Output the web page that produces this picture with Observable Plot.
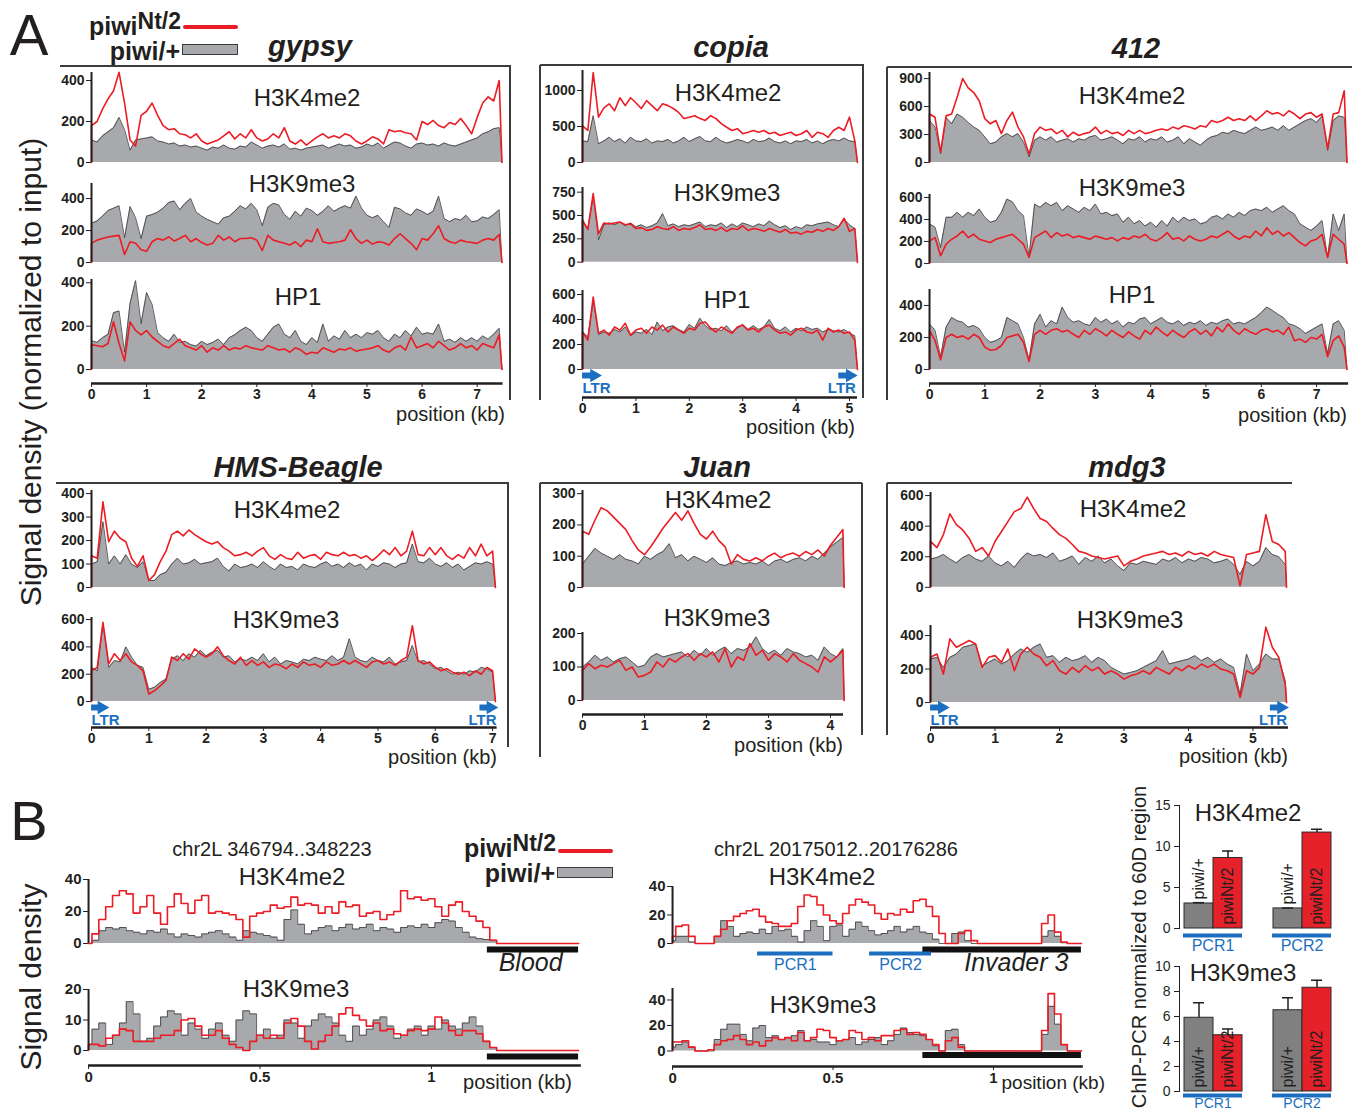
<!DOCTYPE html>
<html>
<head>
<meta charset="utf-8">
<script src="https://cdn.jsdelivr.net/npm/d3@7"></script>
<script src="https://cdn.jsdelivr.net/npm/@observablehq/plot@0.6"></script>
<style>
  html, body { margin: 0; padding: 0; background: #fff; }
  #fig { position: relative; width: 1359px; height: 1113px; overflow: hidden; background: #fff;
         font-family: 'Liberation Sans', Arial, Helvetica, sans-serif; color: #231f20; }
</style>
</head>
<body>
<div id="fig"></div>
<script>
// ===================== DATA =====================
// Signal density per 0.1 kb bin (panel A) or 0.02 kb bin (panel B); "wt" = piwi/+, "mut" = piwi Nt/2
const gypsy_H3K4me2_mut = [180,200,260,310,350,440,290,110,80,230, 250,290,230,180,160,165,140,135,120,140, 105,90,100,110,130,150,115,140,120,160, 120,105,115,140,120,170,105,90,110,85, 105,125,140,120,130,120,140,130,105,90, 105,125,115,90,160,150,155,145,140,110, 200,185,205,180,170,195,185,215,180,140, 220,290,320,300,400];
const gypsy_H3K4me2_wt = [110,100,130,150,170,220,160,60,110,115, 120,125,105,100,90,95,80,85,75,80, 70,60,75,70,85,70,65,80,75,100, 85,70,80,85,75,90,65,70,60,70, 75,80,85,70,80,90,80,85,70,75, 90,80,95,70,85,100,95,80,70,90, 95,85,90,80,95,85,80,90,100,110, 120,140,150,165,170];
const gypsy_H3K9me3_mut = [120,140,150,160,165,170,50,130,120,80, 70,130,150,140,160,135,150,170,130,150, 125,110,120,170,140,160,130,150,150,155, 140,75,170,140,130,120,110,130,100,140, 130,210,130,120,125,130,140,205,150,120, 140,115,130,125,110,150,180,150,120,80, 150,140,180,230,150,130,120,140,130,125, 120,140,150,140,175];
const gypsy_H3K9me3_wt = [245,260,290,325,340,355,155,350,280,150, 290,300,315,340,375,385,330,370,400,315, 290,270,255,240,280,290,320,355,335,370, 330,230,345,370,360,300,270,320,290,340, 325,295,320,355,320,340,355,340,415,340, 295,280,295,255,220,345,335,310,295,335, 320,300,320,415,275,255,275,265,295,255, 260,285,275,300,330];
const gypsy_HP1_mut = [115,110,105,120,220,120,40,220,180,160, 180,150,130,110,100,120,140,110,100,90, 110,80,100,90,110,90,100,95,110,100, 95,90,110,100,90,95,80,100,90,70, 80,75,100,90,80,95,90,100,85,90, 95,100,110,90,80,100,110,90,150,100, 110,120,100,130,110,90,100,120,100,110, 90,120,110,100,160];
const gypsy_HP1_wt = [133,125,147,163,262,270,80,305,410,212, 355,300,170,147,130,163,125,130,115,108, 130,115,125,140,115,147,160,180,195,180, 147,130,163,195,210,163,147,180,130,115, 147,125,210,130,155,140,180,147,163,147, 170,163,180,147,130,163,147,180,155,195, 163,170,163,210,130,140,125,147,130,147, 130,155,140,163,190];

const copia_H3K4me2_mut = [510,445,1250,630,760,815,720,900,790,900, 830,750,860,790,720,815,790,750,695,610, 630,650,610,585,650,610,540,490,445,470, 400,420,445,420,445,400,420,375,400,420, 375,400,445,350,420,400,350,445,490,445, 630,300];
const copia_H3K4me2_wt = [300,290,650,260,300,350,290,330,270,350, 300,290,330,270,300,290,320,270,300,350, 290,330,360,300,290,350,300,270,290,320, 300,270,320,290,300,340,290,270,300,260, 300,290,320,270,300,260,300,320,300,340, 300,290];
const copia_H3K9me3_mut = [450,350,735,300,420,410,420,430,400,410, 360,370,340,350,380,360,350,380,340,360, 350,370,400,350,360,340,370,330,360,350, 390,340,360,350,330,360,340,320,350,310, 320,300,330,320,350,330,360,340,380,470, 330,360];
const copia_H3K9me3_wt = [430,360,700,240,400,420,400,430,390,420, 380,400,370,390,420,520,390,410,380,400, 390,410,430,380,400,390,420,370,410,380, 420,400,380,410,390,440,400,370,390,350, 380,360,400,390,410,420,430,400,380,460, 400,360];
const copia_HP1_mut = [300,235,580,290,315,275,340,315,370,275, 315,330,290,340,315,355,300,340,315,290, 330,315,370,380,330,300,340,315,290,340, 355,315,330,300,340,355,315,290,300,275, 315,330,300,290,315,235,330,300,315,290, 300,235];
const copia_HP1_wt = [300,260,540,280,300,290,320,300,340,270, 300,290,320,280,380,310,340,350,320,300, 360,330,410,350,320,330,310,350,300,330, 360,320,350,320,340,400,330,310,340,300, 330,310,340,320,330,300,320,310,300,320, 290,270];

const te412_H3K4me2_mut = [520,485,110,500,520,700,900,800,750,660, 470,415,450,310,450,540,380,275,90,310, 380,345,360,310,345,275,325,290,310,325, 380,310,345,310,325,290,345,310,345,310, 325,345,360,345,380,360,395,380,360,395, 380,450,430,450,485,450,470,450,500,450, 500,555,520,535,500,555,520,470,520,535, 485,520,150,520,535,770];
const te412_H3K4me2_wt = [450,380,95,485,415,520,485,430,380,345, 275,200,220,275,310,275,310,220,60,240, 275,240,275,220,240,255,220,255,240,275, 290,240,255,275,240,200,255,240,275,220, 255,240,275,220,240,275,200,255,220,185, 240,275,290,325,310,345,325,310,345,380, 345,360,380,345,395,345,380,415,450,470, 430,500,130,450,500,485];
const te412_H3K9me3_mut = [205,235,70,175,220,250,295,235,265,220, 205,190,220,235,250,265,220,175,55,235, 265,295,235,280,250,265,235,250,235,220, 250,235,220,235,205,235,220,250,235,265, 220,205,235,280,220,235,205,250,220,205, 220,250,235,265,295,250,220,250,235,295, 250,325,265,295,250,280,235,190,160,205, 220,265,55,265,220,175];
const te412_H3K9me3_wt = [360,330,145,420,420,465,420,465,435,495, 420,375,390,465,585,560,480,435,60,540, 510,555,525,555,480,525,495,465,510,480, 540,450,465,435,450,375,420,360,390,340, 375,330,390,340,420,375,420,390,405,360, 375,420,435,405,450,420,465,435,480,495, 480,510,465,495,525,480,450,360,330,300, 340,390,55,450,300,450];
const te412_HP1_mut = [245,180,60,200,220,200,210,190,220,200, 140,120,125,150,200,210,220,170,50,220, 245,220,245,255,235,245,220,200,245,220, 255,235,210,245,220,200,235,210,190,245, 220,265,235,210,245,220,200,235,255,220, 245,210,265,235,285,245,220,255,235,220, 245,255,235,245,220,265,180,190,170,200, 190,220,80,180,210,140];
const te412_HP1_wt = [285,245,80,265,325,305,295,265,275,255, 200,170,180,200,325,305,285,200,60,285, 345,265,305,285,390,325,295,305,285,275, 325,295,315,285,305,265,295,285,315,325, 285,305,325,295,285,305,275,295,285,305, 275,295,285,305,315,285,295,285,305,325, 355,390,370,345,325,285,275,255,225,245, 265,285,100,285,305,245];

const hms_H3K4me2_mut = [135,125,365,195,240,210,195,125,90,135, 30,55,110,155,225,240,220,245,225,210, 195,185,195,170,155,135,140,150,135,155, 170,135,120,140,125,120,150,125,135,140, 120,150,140,135,150,135,140,125,135,115, 135,160,140,170,135,155,240,140,135,170, 140,170,135,120,140,125,170,135,185,135, 155];
const hms_H3K4me2_wt = [100,110,280,100,135,100,140,100,85,110, 30,30,55,65,100,125,100,105,120,100, 105,110,125,90,70,100,85,90,100,85, 110,90,75,100,85,90,75,100,90,85, 100,110,90,100,85,105,90,100,75,100, 90,105,100,85,100,105,185,110,105,125, 100,90,105,85,100,75,90,105,100,110, 100];
const hms_H3K9me3_mut = [225,250,580,275,350,300,350,290,265,225, 55,80,115,155,325,300,350,310,385,350, 325,350,400,335,300,275,325,265,300,265, 290,250,275,265,240,275,250,290,265,275, 250,290,265,275,300,275,300,275,250,290, 300,275,290,265,300,325,555,300,275,290, 250,225,240,215,200,215,190,225,200,250, 225];
const hms_H3K9me3_wt = [250,225,570,250,300,290,400,325,265,250, 90,105,140,165,310,335,300,350,325,375, 335,360,375,325,335,290,310,300,325,300, 350,290,325,275,300,290,275,310,300,325, 310,300,335,300,325,460,325,300,290,325, 300,290,325,275,290,300,410,290,300,275, 240,250,225,200,215,200,225,215,250,240, 215];

const juan_H3K4me2_mut = [180,170,215,255,245,225,205,185,150,120, 105,130,160,190,215,240,215,245,205,170, 155,180,150,130,75,105,90,85,95,85, 100,110,95,105,110,100,115,105,120,100, 135,160,185];
const juan_H3K4me2_wt = [75,100,125,110,100,90,105,90,85,75, 100,90,105,115,140,95,105,85,100,90, 80,95,75,70,80,85,75,80,75,85, 70,85,90,80,90,95,85,100,90,110, 130,145,160];
const juan_H3K9me3_mut = [90,110,95,105,100,110,120,90,100,70, 75,85,115,100,125,115,130,140,120,140, 130,145,115,155,100,130,120,170,135,150, 120,140,130,115,140,120,110,100,85,130, 115,130,150];
const juan_H3K9me3_wt = [100,115,135,120,130,115,125,130,115,100, 105,130,140,130,135,140,145,130,150,135, 155,135,150,160,140,155,150,160,190,155, 140,150,135,155,145,140,130,135,120,160, 140,130,155];

const mdg3_H3K4me2_mut = [300,260,345,480,410,375,320,235,260,205, 300,365,430,495,515,590,515,450,430,385, 345,320,280,235,225,205,195,185,195,205, 140,170,185,205,215,225,235,215,225,205, 235,215,225,205,235,215,205,195,10,215, 225,235,475,300,280,235];
const mdg3_H3K4me2_wt = [185,195,215,185,160,195,215,185,170,205, 160,140,170,130,185,225,205,215,195,225, 170,185,205,150,195,170,205,160,185,140, 110,160,150,170,160,150,185,170,195,160, 185,170,195,185,160,170,185,150,85,170, 140,170,260,215,200,150];
const mdg3_H3K9me3_mut = [270,290,170,380,330,350,370,350,210,270, 280,240,320,190,290,330,290,270,220,250, 190,170,210,180,220,190,210,170,190,170, 140,160,170,190,170,210,190,170,210,190, 220,200,230,210,230,200,190,170,30,190, 170,210,450,330,270,110];
const mdg3_H3K9me3_wt = [260,270,210,270,290,330,340,350,220,240, 260,230,250,290,320,300,330,350,270,280, 240,270,250,260,280,240,270,250,210,190, 170,180,190,210,230,250,310,230,240,250, 260,280,250,270,240,260,230,210,50,290, 190,230,290,260,260,130];

// Panel B (0.02 kb bins)
const blood_H3K4me2_mut = [0,6,15,23,30,33,31,19,23,30, 19,12,23,31,25,19,27,30,19,20, 19,18,15,4,17,19,20,24,22,23, 29,24,25,24,19,23,19,26,23,24, 17,19,20,15,18,20,33,28,29,27, 28,23,17,24,26,20,17,14,10,2, 0,0,0,0,0,0,0,0,0,0,0,0];
const blood_H3K4me2_wt = [0,2,8,10,9,10,8,7,6,8, 7,9,6,4,6,5,4,6,7,8, 6,4,2,8,7,6,5,4,2,15, 21,12,6,8,10,11,8,10,12,9, 10,12,8,10,9,7,10,11,10,12, 10,13,15,14,10,7,4,3,2.5,2, 0,0,0,0,0,0,0,0,0,0,0,0];
const blood_H3K9me3_mut = [2,2,1.5,4,5,7,6.5,3,3,3, 4,5,5,6.5,10,10.5,8,5,5,6.5, 4,2,1,0,3,5,4,5,4,9, 10.5,8,3,0.5,3,5,8,12,14,11.5, 10,8,9,6.5,7,5.5,5,6.5,7,6.5, 7,11,9,6.5,5,6.5,6.5,5.5,3,1, 0,0,0,0,0,0,0,0,0,0,0,0];
const blood_H3K9me3_wt = [2,7,9,2,5,9,16,12,3,4, 8,11,13,12,5,9,7,4,7,9, 5,3,10,13,12,5,7,4,5,10, 9,4,8,10,12,11,9,5,3,8, 5,7,10,11,8,4,5,7,8,5, 8,7,10,8,7,9,11,8,3,1, 0,0,0,0,0,0,0,0,0,0,0,0];
const inv3_H3K4me2_mut = [5,12,13,5,0,0,0,5,10,16, 19,21,23,24,19,15,14,12,12,14, 26,34,33,27,20,16,14,21,27,31, 29,27,21,17,21,20,24,22,30,31, 26,19,7,0,0,7,9,2,0,0, 0,0,0,0,0,0,0,0,14,20, 8,1,0,0];
const inv3_H3K4me2_wt = [2,5,5,1,0,0,0,5,16,12, 5,7,8,7,10,7,12,9,10,5, 1,9,16,12,2,12,13,5,10,15, 12,9,6,7,9,12,8,10,12,8, 7,3,0,0,7,8,2,0,0,0, 0,0,0,0,0,0,0,0,5,9, 5,0.5,0,0];
const inv3_H3K9me3_mut = [7,7,8,3,0,0,1,5,8,9, 12,9,5,7,4,8,10.5,9,10.5,8, 14.5,8,10.5,17,16,10.5,8,9,16,14.5, 9,10.5,8,12,12,16,17,13,14.5,13, 9,5,0,8,10.5,3,0,0,0,0, 0,0,0,0,0,0,0,0,16,45, 29,5,0,0];
const inv3_H3K9me3_wt = [3,5,7,3,0,0,0,9,17,21, 21,13,8,18,20,10.5,12,9,10.5,12, 16,8,9,7,7,5,8,9,10.5,5, 7,9,10.5,5,8,13,18,14.5,13,12, 9,4,0,16,17,5,0,0,0,0, 0,0,0,0,0,0,0,0,13,35, 21,5,0,0];

// Annotated regions (kb)
const ltrCopia = [[0, 0.33], [4.8, 5.12]];
const ltrBeagle = [[0, 0.28], [6.78, 7.07]];
const ltrMdg3 = [[0, 0.27], [5.27, 5.53]];
const bloodRegion = [[1.163, 1.429, "Blood"]];
const invaderRegion = [[0.78, 1.274, "Invader 3"]];
const pcrAmplicons = [[0.265, 0.50, "PCR1"], [0.614, 0.807, "PCR2"]];

// ChIP-PCR bars (order: PCR1 piwi/+, PCR1 piwiNt/2, PCR2 piwi/+, PCR2 piwiNt/2)
const pcrRegions = ["PCR1", "PCR2"];
const genotypes = ["piwi/+", "piwiNt/2"];
const barPcr = ["PCR1", "PCR1", "PCR2", "PCR2"];
const barGeno = ["piwi/+", "piwiNt/2", "piwi/+", "piwiNt/2"];
const h3k4me2Mean = [3.05, 8.6, 2.45, 11.7];
const h3k4me2ErrTop = [3.15, 9.45, 2.5, 12.1];
const h3k9me3Mean = [5.9, 4.5, 6.5, 8.3];
const h3k9me3ErrTop = [7.1, 5.0, 7.5, 8.9];

// Tick values
const ticksKb7 = [0,1,2,3,4,5,6,7];
const ticksKb5 = [0,1,2,3,4,5];
const ticksKb4 = [0,1,2,3,4];
const ticksKbB = [0, 0.5, 1];
const t200_400 = [0,200,400];
const t500_1000 = [0,500,1000];
const t250_750 = [0,250,500,750];
const t200_600 = [0,200,400,600];
const t300_900 = [0,300,600,900];
const t100_400 = [0,100,200,300,400];
const t100_300 = [0,100,200,300];
const t100_200 = [0,100,200];
const t20_40 = [0,20,40];
const t10_20 = [0,10,20];
const tBar15 = [0,5,10,15];
const tBar10 = [0,2,4,6,8,10];

// ===================== STYLE / LAYOUT =====================
const FONT = "'Liberation Sans', Arial, Helvetica, sans-serif";
const RED = "#ec1c24", FILL = "#a7a9ac", EDGE = "#3a3a3a", BLUE = "#1c6fc0", INK = "#231f20";
const BARGRAY = "#808080", BARRED = "#e52129";
const fig = document.getElementById("fig");

function place(node, left, top) {
  const d = document.createElement("div");
  d.style.cssText = `position:absolute;left:${left}px;top:${top}px;`;
  d.appendChild(node);
  fig.appendChild(d);
}
function txt(s, x, y, o = {}) {
  const {size = 24, weight = "normal", style = "normal", anchor = "middle", color = INK, rotate = 0, html = false} = o;
  const d = document.createElement("div");
  if (html) d.innerHTML = s; else d.textContent = s;
  const tx = anchor === "middle" ? "-50%" : anchor === "end" ? "-100%" : "0";
  d.style.cssText = `position:absolute;left:${x}px;top:${y}px;font-family:${FONT};font-size:${size}px;font-weight:${weight};font-style:${style};color:${color};line-height:1;white-space:nowrap;transform:translate(${tx},-50%)${rotate ? ` rotate(${rotate}deg)` : ""};`;
  fig.appendChild(d);
}
function box(x, y, w, h, css) {
  const d = document.createElement("div");
  d.style.cssText = `position:absolute;left:${x}px;top:${y}px;width:${w}px;height:${h}px;box-sizing:border-box;${css}`;
  fig.appendChild(d);
}
const hline = (x1, x2, y) => box(x1, y - 1, x2 - x1, 2, "background:#3c3c3c;");
const vline = (x, y1, y2) => box(x - 1, y1, 2, y2 - y1, "background:#3c3c3c;");

const plotStyle = (size, weight) => `font-family:${FONT};font-size:${size}px;font-weight:${weight};background:transparent;overflow:visible;max-width:none;color:${INK};`;

const panels = {
  gypsy: {x0: 91, ppk: 55.1, len: 7.45, step: 0.1, axisY: 383, axisEnd: 7.47, xticks: ticksKb7, gap: 20},
  copia: {x0: 582, ppk: 53.4, len: 5.15, step: 0.1, axisY: 397, axisEnd: 5.15, xticks: ticksKb5, gap: 22, ltr: ltrCopia, ltrDy: -9},
  te412: {x0: 929, ppk: 55.3, len: 7.55, step: 0.1, axisY: 383, axisEnd: 7.58, xticks: ticksKb7, gap: 20},
  beagle: {x0: 91, ppk: 57.3, len: 7.05, step: 0.1, axisY: 727, axisEnd: 7.08, xticks: ticksKb7, gap: 20, ltr: ltrBeagle, ltrDy: -7},
  juan: {x0: 582, ppk: 62, len: 4.22, step: 0.1, axisY: 714, axisEnd: 4.21, xticks: ticksKb4, gap: 20},
  mdg3: {x0: 930, ppk: 64.5, len: 5.52, step: 0.1, axisY: 727, axisEnd: 5.55, xticks: ticksKb5, gap: 20, ltr: ltrMdg3, ltrDy: -7},
  blood: {x0: 88, ppk: 343, len: 1.429, step: 0.02, axisY: 1065, axisEnd: 1.437, xticks: ticksKbB, gap: 20, curve: "step", B: true},
  inv3: {x0: 672, ppk: 321, len: 1.274, step: 0.02, axisY: 1066, axisEnd: 1.28, xticks: ticksKbB, gap: 20, curve: "step", B: true}
};

function regionMarks(regions, dyBar, showLabel, labelDx) {
  const m = [Plot.ruleY(regions, {x1: d => d[0], x2: d => d[1], y: 0, dy: dyBar, stroke: "#111", strokeWidth: 6})];
  if (showLabel) m.push(Plot.text(regions, {x: d => d[1], y: 0, text: d => d[2], textAnchor: "end", lineAnchor: "middle", dx: labelDx, dy: 20, fontSize: 25, fontStyle: "italic", fontWeight: "normal", fill: INK}));
  return m;
}

const tracks = [
  {p: "gypsy", name: "H3K4me2", wt: gypsy_H3K4me2_wt, mut: gypsy_H3K4me2_mut, ticks: t200_400, y0: 162, k: 0.205, top: 439, lx: 307, ly: 98},
  {p: "gypsy", name: "H3K9me3", wt: gypsy_H3K9me3_wt, mut: gypsy_H3K9me3_mut, ticks: t200_400, y0: 262, k: 0.16, top: 494, lx: 302, ly: 184},
  {p: "gypsy", name: "HP1", wt: gypsy_HP1_wt, mut: gypsy_HP1_mut, ticks: t200_400, y0: 369, k: 0.217, top: 415, lx: 298, ly: 297},
  {p: "copia", name: "H3K4me2", wt: copia_H3K4me2_wt, mut: copia_H3K4me2_mut, ticks: t500_1000, y0: 162, k: 0.072, top: 1278, lx: 728, ly: 93},
  {p: "copia", name: "H3K9me3", wt: copia_H3K9me3_wt, mut: copia_H3K9me3_mut, ticks: t250_750, y0: 262, k: 0.0933, top: 800, lx: 727, ly: 193},
  {p: "copia", name: "HP1", wt: copia_HP1_wt, mut: copia_HP1_mut, ticks: t200_600, y0: 369, k: 0.125, top: 632, lx: 727, ly: 300},
  {p: "te412", name: "H3K4me2", wt: te412_H3K4me2_wt, mut: te412_H3K4me2_mut, ticks: t300_900, y0: 162, k: 0.0933, top: 965, lx: 1132, ly: 96},
  {p: "te412", name: "H3K9me3", wt: te412_H3K9me3_wt, mut: te412_H3K9me3_mut, ticks: t200_600, y0: 263, k: 0.11, top: 627, lx: 1132, ly: 188},
  {p: "te412", name: "HP1", wt: te412_HP1_wt, mut: te412_HP1_mut, ticks: t200_400, y0: 369, k: 0.16, top: 500, lx: 1132, ly: 295},
  {p: "beagle", name: "H3K4me2", wt: hms_H3K4me2_wt, mut: hms_H3K4me2_mut, ticks: t100_400, y0: 587, k: 0.235, top: 413, lx: 287, ly: 510},
  {p: "beagle", name: "H3K9me3", wt: hms_H3K9me3_wt, mut: hms_H3K9me3_mut, ticks: t200_600, y0: 701, k: 0.1367, top: 615, lx: 286, ly: 620},
  {p: "juan", name: "H3K4me2", wt: juan_H3K4me2_wt, mut: juan_H3K4me2_mut, ticks: t100_300, y0: 587, k: 0.313, top: 310, lx: 718, ly: 500},
  {p: "juan", name: "H3K9me3", wt: juan_H3K9me3_wt, mut: juan_H3K9me3_mut, ticks: t100_200, y0: 700, k: 0.335, top: 203, lx: 717, ly: 618},
  {p: "mdg3", name: "H3K4me2", wt: mdg3_H3K4me2_wt, mut: mdg3_H3K4me2_mut, ticks: t200_600, y0: 587, k: 0.153, top: 620, lx: 1133, ly: 509},
  {p: "mdg3", name: "H3K9me3", wt: mdg3_H3K9me3_wt, mut: mdg3_H3K9me3_mut, ticks: t200_400, y0: 702, k: 0.1675, top: 460, lx: 1130, ly: 620},
  {p: "blood", name: "H3K4me2", wt: blood_H3K4me2_wt, mut: blood_H3K4me2_mut, ticks: t20_40, y0: 943, k: 1.6, top: 40, lx: 292, ly: 877,
    extra: () => regionMarks(bloodRegion, 6, true, -16)},
  {p: "blood", name: "H3K9me3", wt: blood_H3K9me3_wt, mut: blood_H3K9me3_mut, ticks: t10_20, y0: 1050, k: 3.05, top: 20, lx: 296, ly: 989,
    extra: () => regionMarks(bloodRegion, 6, false)},
  {p: "inv3", name: "H3K4me2", wt: inv3_H3K4me2_wt, mut: inv3_H3K4me2_mut, ticks: t20_40, y0: 943, k: 1.425, top: 40, lx: 822, ly: 877,
    extra: () => [
      ...regionMarks(invaderRegion, 6, true, -13),
      Plot.ruleY(pcrAmplicons, {x1: d => d[0], x2: d => d[1], y: 0, dy: 10, stroke: BLUE, strokeWidth: 4}),
      Plot.text(pcrAmplicons, {x: d => (d[0] + d[1]) / 2, y: 0, text: d => d[2], lineAnchor: "middle", dy: 21, fill: BLUE, fontSize: 16, fontWeight: "normal"})
    ]},
  {p: "inv3", name: "H3K9me3", wt: inv3_H3K9me3_wt, mut: inv3_H3K9me3_mut, ticks: t20_40, y0: 1050, k: 1.275, top: 49, lx: 823, ly: 1005,
    extra: () => regionMarks(invaderRegion, 4, false)}
];

// ===================== DRAW =====================
function trackPlot(t) {
  const p = panels[t.p];
  const ML = 60, MR = 6, MT = 6, MB = 4;
  const innerW = p.len * p.ppk, innerH = t.top * t.k;
  const pts = arr => [{x: 0, y: 0}, ...arr.map((v, i) => ({x: +(i * p.step).toFixed(4), y: v})), {x: p.len, y: 0}];
  const W = pts(t.wt), M = pts(t.mut);
  const curve = p.curve || "linear";
  const svg = Plot.plot({
    width: ML + innerW + MR, height: MT + innerH + MB,
    marginLeft: ML, marginRight: MR, marginTop: MT, marginBottom: MB,
    style: plotStyle(p.B ? 15 : 14, "bold"),
    x: {domain: [0, p.len], axis: null},
    y: {domain: [0, t.top], ticks: t.ticks, tickSize: 5, tickPadding: 2, tickFormat: d3.format("d"), label: null},
    marks: [
      Plot.areaY(W, {x: "x", y1: 0, y2: "y", fill: FILL, curve}),
      Plot.lineY(W, {x: "x", y: "y", stroke: EDGE, strokeWidth: 0.8, curve}),
      Plot.lineY(M, {x: "x", y: "y", stroke: RED, strokeWidth: 1.6, curve}),
      Plot.ruleX([0], {y1: 0, y2: t.top, stroke: INK, strokeWidth: 2}),
      ...(t.extra ? t.extra() : [])
    ]
  });
  place(svg, p.x0 - ML, t.y0 - innerH - MT);
  txt(t.name, t.lx, t.ly, {size: 24});
}

function xAxisPlot(key) {
  const p = panels[key];
  const ML = 20, MR = 20, MT = 8, MB = 30;
  const innerW = p.axisEnd * p.ppk, innerH = p.gap;
  const marks = [Plot.ruleY([0], {x1: 0, x2: p.axisEnd, stroke: INK, strokeWidth: 2.5})];
  if (p.ltr) {
    marks.push(
      Plot.ruleY(p.ltr, {x1: d => d[0], x2: d => d[1], y: 1, stroke: BLUE, strokeWidth: 6, insetRight: 7}),
      Plot.dot(p.ltr, {x: d => d[1], y: 1, symbol: "triangle", rotate: 90, r: 5, fill: BLUE, dx: -6}),
      Plot.text(p.ltr.slice(0, 1), {x: d => d[0], y: 0, text: () => "LTR", textAnchor: "start", lineAnchor: "middle", dy: p.ltrDy, fill: BLUE, fontSize: 15, fontWeight: "bold"}),
      Plot.text(p.ltr.slice(1), {x: d => d[1], y: 0, text: () => "LTR", textAnchor: "end", lineAnchor: "middle", dy: p.ltrDy, fill: BLUE, fontSize: 15, fontWeight: "bold"})
    );
  }
  const svg = Plot.plot({
    width: ML + innerW + MR, height: MT + innerH + MB,
    marginLeft: ML, marginRight: MR, marginTop: MT, marginBottom: MB,
    style: plotStyle(p.B ? 15 : 14, "bold"),
    x: {domain: [0, p.axisEnd], ticks: p.xticks, tickSize: 4, tickPadding: 2, tickFormat: d => `${d}`, label: null, axis: "bottom"},
    y: {domain: [0, 1], axis: null},
    marks
  });
  place(svg, p.x0 - ML, p.axisY - innerH - MT);
}

function barPlot(means, errs, ticks, yMax, y0, k, blueDy, labelDy, labelSize) {
  const data = means.map((v, i) => ({pcr: barPcr[i], geno: barGeno[i], value: v, err: errs[i]}));
  const ML = 50, MR = 10, MT = 12, MB = 22;
  const innerW = 158, innerH = yMax * k;
  const svg = Plot.plot({
    width: ML + innerW + MR, height: MT + innerH + MB,
    marginLeft: ML, marginRight: MR, marginTop: MT, marginBottom: MB,
    style: plotStyle(14, "normal"),
    fx: {domain: pcrRegions, paddingInner: 0.2444, paddingOuter: 0, axis: null, label: null},
    x: {domain: genotypes, paddingInner: 0, paddingOuter: 0.133, axis: null, label: null},
    y: {domain: [0, yMax], ticks, tickSize: 5, tickPadding: 4, line: true, label: null},
    marks: [
      Plot.barY(data, {fx: "pcr", x: "geno", y: "value", fill: d => d.geno === "piwi/+" ? BARGRAY : BARRED, stroke: "#2a2a2a", strokeWidth: 1}),
      Plot.ruleX(data, {fx: "pcr", x: "geno", y1: "value", y2: "err", stroke: INK, strokeWidth: 1.5}),
      Plot.tickY(data, {fx: "pcr", x: "geno", y: "err", stroke: INK, strokeWidth: 1.5, insetLeft: 9, insetRight: 9}),
      Plot.text(data, {fx: "pcr", x: "geno", y: d => d.value < 4 ? d.value : 0, text: "geno", rotate: -90, textAnchor: "start", dy: -4, fontSize: 16, fill: INK}),
      Plot.ruleY(pcrRegions, {fx: d => d, y: 0, dy: blueDy, stroke: BLUE, strokeWidth: 4, insetLeft: 4, insetRight: 4}),
      Plot.text(pcrRegions, {fx: d => d, frameAnchor: "bottom", lineAnchor: "middle", text: d => d, dy: labelDy, fill: BLUE, fontSize: labelSize})
    ]
  });
  place(svg, 1178 - ML, y0 - innerH - MT);
}

// Frames of panel A
hline(60, 511, 66); vline(510, 66, 400);
hline(540, 864, 65); vline(540, 65, 400); vline(863, 65, 398);
hline(887, 1352, 67); vline(887, 67, 400);
hline(56, 509, 483); vline(508, 483, 747);
hline(540, 862, 483); vline(540, 483, 757); vline(862, 483, 735);
hline(887, 1292, 483); vline(887, 483, 735);

tracks.forEach(trackPlot);
Object.keys(panels).forEach(xAxisPlot);
barPlot(h3k4me2Mean, h3k4me2ErrTop, tBar15, 15, 928, 8.2, 7, 17, 16);
barPlot(h3k9me3Mean, h3k9me3ErrTop, tBar10, 10, 1091, 12.5, 4, 12.5, 14);

// Titles
const T = {size: 29, weight: "bold", style: "italic"};
txt("gypsy", 310, 46, T); txt("copia", 731, 47, T); txt("412", 1136, 48, T);
txt("HMS-Beagle", 298, 467, T); txt("Juan", 717, 467, T); txt("mdg3", 1127, 467, T);

// position (kb)
const P = {size: 20, anchor: "end"};
txt("position (kb)", 505, 414, P); txt("position (kb)", 855, 427, P); txt("position (kb)", 1347, 415, P);
txt("position (kb)", 497, 757, P); txt("position (kb)", 843, 745, P); txt("position (kb)", 1288, 756, P);
txt("position (kb)", 572, 1082, P); txt("position (kb)", 1105, 1082, {size: 19, anchor: "end"});

// Panel letters & y titles
txt("A", 29, 35, {size: 58});
txt("B", 29, 821, {size: 56});
txt("Signal density (normalized to input)", 31, 372, {size: 30, rotate: -90});
txt("Signal density", 31, 977, {size: 30, rotate: -90});
txt("ChIP-PCR normalized to 60D region", 1139, 947, {size: 20, rotate: -90});

// B annotations
txt("chr2L 346794..348223", 272, 849, {size: 20});
txt("chr2L 20175012..20176286", 836, 849, {size: 20});
txt("H3K4me2", 1248, 813, {size: 24});
txt("H3K9me3", 1243, 973, {size: 24});

// Legends
function legend(xr, yRow1, yRow2, lineY, rectY) {
  txt('piwi<span style="font-size:23px;position:relative;top:-6px">Nt/2</span>', xr, yRow1, {size: 25, weight: "bold", anchor: "end", html: true});
  txt("piwi/+", xr - 1, yRow2, {size: 25, weight: "bold", anchor: "end"});
  box(xr + 2, lineY - 2, 55, 4, `background:${RED};border-radius:2px;`);
  box(xr + 1, rectY, 56, 11, `background:${FILL};border:1.5px solid ${EDGE};`);
}
legend(181, 26, 51, 27, 44);
legend(556, 848, 873, 851, 867);
</script>
</body>
</html>
